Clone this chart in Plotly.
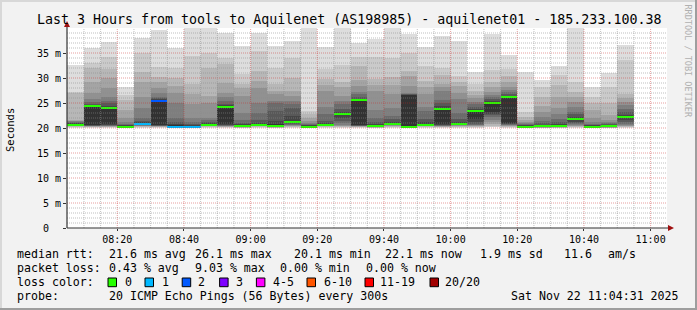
import plotly.graph_objects as go
import pandas as pd

# ---------------- data ----------------
bin_start = pd.date_range("2025-11-22 08:05:00", periods=34, freq="5min")

median_ms = [20.7, 24.4, 24.0, 20.3, 20.9, 25.5, 20.3, 20.2, 20.7, 24.3,
             20.5, 20.7, 20.5, 21.3, 20.3, 20.7, 22.8, 25.6, 20.5, 20.9,
             20.3, 20.7, 23.9, 20.9, 23.5, 25.1, 26.2, 20.3, 20.4, 20.5,
             21.9, 20.3, 20.4, 22.3]

lost_pings = [0, 0, 0, 0, 1, 2, 1, 1, 0, 0,
              0, 0, 0, 0, 0, 0, 0, 0, 0, 0,
              0, 0, 0, 0, 0, 0, 0, 0, 0, 0,
              0, 0, 0, 0]

# sorted ping rtts (ms): lower half p1..p10
pings_low = [
    [20.1, 20.2, 20.3, 20.4, 20.4, 20.5, 20.5, 20.6, 20.6, 20.7],
    [20.1, 20.2, 20.3, 20.3, 20.4, 20.4, 20.5, 20.5, 20.6, 20.7],
    [20.1, 20.2, 20.3, 20.3, 20.4, 20.5, 20.5, 20.6, 20.7, 20.8],
    [20.0, 20.0, 20.1, 20.1, 20.1, 20.2, 20.2, 20.2, 20.3, 20.3],
    [20.1, 20.2, 20.3, 20.4, 20.5, 20.5, 20.6, 20.7, 20.8, 20.9],
    [20.1, 20.2, 20.3, 20.3, 20.4, 20.4, 20.5, 20.5, 20.6, 20.7],
    [20.0, 20.0, 20.1, 20.1, 20.1, 20.2, 20.2, 20.2, 20.3, 20.3],
    [20.0, 20.0, 20.0, 20.1, 20.1, 20.1, 20.1, 20.2, 20.2, 20.2],
    [20.1, 20.2, 20.3, 20.4, 20.5, 20.5, 20.6, 20.6, 20.7, 20.7],
    [20.1, 20.2, 20.3, 20.3, 20.4, 20.5, 20.5, 20.6, 20.7, 20.8],
    [20.0, 20.1, 20.1, 20.2, 20.2, 20.3, 20.3, 20.4, 20.4, 20.5],
    [20.1, 20.2, 20.3, 20.4, 20.5, 20.5, 20.6, 20.6, 20.7, 20.7],
    [20.0, 20.1, 20.1, 20.2, 20.2, 20.3, 20.3, 20.4, 20.4, 20.5],
    [20.1, 20.2, 20.3, 20.4, 20.5, 20.6, 20.7, 20.9, 21.0, 21.2],
    [20.0, 20.0, 20.1, 20.1, 20.1, 20.2, 20.2, 20.2, 20.3, 20.3],
    [20.1, 20.2, 20.3, 20.4, 20.5, 20.5, 20.6, 20.6, 20.7, 20.7],
    [20.1, 20.2, 20.3, 20.4, 20.5, 20.7, 21.0, 21.5, 22.0, 22.6],
    [20.1, 20.2, 20.3, 20.3, 20.4, 20.4, 20.5, 20.5, 20.6, 20.7],
    [20.0, 20.1, 20.1, 20.2, 20.2, 20.3, 20.3, 20.4, 20.4, 20.5],
    [20.1, 20.2, 20.3, 20.4, 20.5, 20.6, 20.6, 20.7, 20.8, 20.9],
    [20.0, 20.1, 20.1, 20.2, 20.2, 20.2, 20.3, 20.3, 20.3, 20.4],
    [20.1, 20.2, 20.3, 20.4, 20.5, 20.5, 20.6, 20.6, 20.7, 20.7],
    [20.1, 20.2, 20.3, 20.3, 20.4, 20.5, 20.5, 20.6, 20.7, 20.8],
    [20.1, 20.2, 20.3, 20.4, 20.5, 20.6, 20.6, 20.7, 20.8, 20.9],
    [20.1, 20.2, 20.3, 20.4, 20.5, 20.6, 20.7, 20.9, 21.2, 21.8],
    [20.2, 20.3, 20.5, 20.8, 21.2, 21.7, 22.2, 22.6, 22.9, 23.2],
    [20.1, 20.2, 20.3, 20.4, 20.5, 20.6, 20.7, 20.8, 20.9, 21.0],
    [20.0, 20.0, 20.1, 20.1, 20.1, 20.2, 20.2, 20.2, 20.3, 20.3],
    [20.0, 20.0, 20.1, 20.1, 20.2, 20.2, 20.3, 20.3, 20.3, 20.4],
    [20.0, 20.1, 20.1, 20.2, 20.2, 20.3, 20.3, 20.4, 20.4, 20.5],
    [20.1, 20.2, 20.3, 20.4, 20.5, 20.6, 20.8, 21.0, 21.3, 21.6],
    [20.0, 20.0, 20.1, 20.1, 20.1, 20.2, 20.2, 20.2, 20.3, 20.3],
    [20.0, 20.0, 20.1, 20.1, 20.2, 20.2, 20.3, 20.3, 20.3, 20.4],
    [20.1, 20.2, 20.3, 20.4, 20.5, 20.7, 20.9, 21.2, 21.6, 22.0],
]

# sorted ping rtts (ms): upper half p11..p20
pings_high = [
    [20.8, 20.9, 21.0, 21.2, 21.4, 21.5, 21.7, 27.0, 27.2, 32.7],
    [24.5, 24.7, 24.9, 25.3, 25.9, 27.0, 29.3, 32.0, 33.0, 36.1],
    [24.2, 24.5, 25.0, 25.5, 26.3, 28.0, 30.0, 31.8, 34.3, 37.3],
    [20.4, 20.5, 20.6, 20.8, 21.2, 22.0, 23.6, 25.6, 26.6, 28.3],
    [21.0, 21.2, 21.5, 22.0, 24.0, 26.3, 29.3, 31.3, 35.0, 38.0],
    [25.6, 25.8, 26.0, 26.3, 27.0, 28.0, 29.3, 30.3, 32.3, 39.6],
    [20.5, 20.8, 21.3, 22.1, 25.1, 27.1, 28.5, 30.1, 32.1, 36.0],
    [20.3, 20.5, 20.8, 21.2, 22.1, 24.8, 26.8, 28.8, 34.5, 40.0],
    [20.8, 21.0, 21.3, 21.7, 22.1, 25.1, 26.5, 32.1, 35.1, 40.0],
    [24.4, 24.6, 24.8, 25.5, 26.3, 27.1, 29.1, 32.9, 34.1, 39.1],
    [20.6, 20.8, 21.1, 21.6, 23.1, 26.5, 28.1, 28.8, 30.9, 36.5],
    [20.8, 21.1, 21.6, 23.1, 25.1, 28.1, 29.5, 31.5, 35.5, 39.1],
    [20.7, 21.5, 23.5, 25.0, 25.5, 26.8, 27.5, 28.8, 32.0, 36.5],
    [21.4, 22.5, 24.0, 24.8, 25.5, 26.5, 27.5, 30.0, 34.1, 37.5],
    [20.4, 20.5, 20.6, 20.8, 21.0, 21.5, 22.0, 22.8, 23.5, 40.0],
    [20.8, 21.0, 21.5, 22.8, 24.3, 27.5, 28.6, 29.8, 31.8, 36.2],
    [22.9, 23.2, 23.8, 24.8, 25.5, 26.4, 28.2, 29.3, 32.7, 40.0],
    [25.7, 25.9, 26.2, 26.8, 27.3, 28.5, 29.7, 32.5, 34.3, 37.0],
    [20.6, 20.9, 21.3, 22.0, 23.6, 27.4, 28.6, 29.8, 34.2, 37.8],
    [21.0, 21.3, 21.8, 22.5, 24.0, 26.8, 28.7, 30.2, 34.0, 40.0],
    [26.6, 26.7, 26.8, 26.9, 27.0, 28.5, 30.4, 31.5, 35.0, 38.8],
    [20.8, 21.2, 21.8, 23.5, 24.3, 26.8, 28.3, 29.5, 32.5, 36.3],
    [24.0, 24.4, 25.0, 25.7, 27.5, 28.3, 28.8, 30.6, 32.1, 38.5],
    [21.0, 21.3, 21.8, 23.1, 25.8, 27.0, 28.5, 29.3, 30.5, 37.5],
    [23.6, 23.8, 24.2, 24.8, 25.3, 26.0, 26.6, 27.5, 28.9, 31.3],
    [25.2, 25.5, 25.8, 26.2, 26.7, 27.3, 28.3, 29.3, 31.6, 38.8],
    [26.3, 26.5, 26.8, 27.2, 27.6, 28.3, 29.3, 30.5, 31.9, 34.6],
    [20.4, 20.5, 20.6, 20.8, 21.0, 21.3, 21.7, 22.3, 23.3, 31.3],
    [20.5, 20.7, 21.0, 21.5, 22.2, 23.3, 24.5, 26.3, 28.3, 29.6],
    [20.6, 20.8, 21.2, 21.8, 22.8, 24.0, 26.3, 28.6, 30.6, 32.4],
    [22.0, 22.3, 22.8, 23.3, 24.3, 25.3, 26.3, 27.3, 29.3, 40.0],
    [20.4, 20.5, 20.6, 20.8, 21.2, 22.0, 23.6, 25.0, 26.3, 28.3],
    [20.5, 20.6, 20.8, 21.0, 21.3, 21.7, 22.6, 25.0, 28.3, 31.1],
    [22.4, 22.7, 23.2, 23.9, 24.6, 25.3, 26.1, 26.9, 33.6, 36.6],
]

y_tickvals = [0, 5, 10, 15, 20, 25, 30, 35]
y_ticktext = ["0\u00a0\u00a0", "5 m", "10 m", "15 m", "20 m", "25 m", "30 m", "35 m"]

legend_labels = ["0", "1", "2", "3", "4-5", "6-10", "11-19", "20/20"]
legend_colors = ["#26ff00", "#00b8ff", "#0059ff", "#7e00ff",
                 "#ff00ff", "#ff5500", "#ff0000", "#a10000"]

# ---------------- figure ----------------
FONT = "DejaVu Sans Mono"
W_FIG, H_FIG = 697, 310
L, R, T, B = 67, 667, 28, 228
PW, PH = R - L, B - T


def fx(px):
    return (px - L) / PW


def fy(py):
    return (B - py) / PH


smoke_grays = ["#dddddd", "#cacaca", "#b7b7b7", "#a4a4a4", "#919191",
               "#7e7e7e", "#6b6b6b", "#585858", "#454545", "#323232"]

centers = bin_start + pd.Timedelta(seconds=150)
step_ms = 300000
pings = [lo + hi for lo, hi in zip(pings_low, pings_high)]

fig = go.Figure()
for k in range(10):
    base = [p[k] for p in pings]
    height = [p[19 - k] - p[k] for p in pings]
    fig.add_trace(go.Bar(x=centers, y=height, base=base, width=step_ms,
                         marker=dict(color=smoke_grays[k], line=dict(width=0)),
                         hoverinfo="skip"))


def loss_color(n):
    if n <= 3:
        return legend_colors[n]
    if n <= 5:
        return legend_colors[4]
    if n <= 10:
        return legend_colors[5]
    if n <= 19:
        return legend_colors[6]
    return legend_colors[7]


med_half = 0.2
fig.add_trace(go.Bar(x=centers, y=[2 * med_half] * len(median_ms),
                     base=[m - med_half for m in median_ms], width=step_ms,
                     marker=dict(color=[loss_color(n) for n in lost_pings], line=dict(width=0)),
                     hoverinfo="skip"))

shapes = []
minor_c = "rgba(140,140,140,0.55)"
major_c = "rgba(200,40,40,0.45)"
for v in range(1, 40):
    shapes.append(dict(type="line", xref="paper", yref="y", x0=0, x1=1, y0=v, y1=v,
                       layer="above",
                       line=dict(color=major_c if v % 5 == 0 else minor_c, width=1, dash="1px,1px")))
for t in pd.date_range("2025-11-22 08:10", "2025-11-22 11:00", freq="5min"):
    shapes.append(dict(type="line", xref="x", yref="paper", x0=t, x1=t, y0=0, y1=1,
                       layer="above",
                       line=dict(color=major_c if t.minute % 20 == 0 else minor_c, width=1, dash="1px,1px")))

axis_c = "#333333"
arrow_c = "#a01010"
# axes lines
shapes.append(dict(type="line", xref="paper", yref="paper", x0=fx(67), x1=fx(670), y0=fy(228), y1=fy(228),
                   line=dict(color=axis_c, width=1.2), layer="above"))
shapes.append(dict(type="line", xref="paper", yref="paper", x0=fx(67), x1=fx(67), y0=fy(228), y1=fy(24),
                   line=dict(color=axis_c, width=1.2), layer="above"))
# arrows
shapes.append(dict(type="path", xref="paper", yref="paper", layer="above",
                   path=f"M {fx(64)},{fy(27)} L {fx(70)},{fy(27)} L {fx(67)},{fy(21)} Z",
                   fillcolor=arrow_c, line=dict(width=0)))
shapes.append(dict(type="path", xref="paper", yref="paper", layer="above",
                   path=f"M {fx(668)},{fy(225)} L {fx(668)},{fy(231)} L {fx(674)},{fy(228)} Z",
                   fillcolor=arrow_c, line=dict(width=0)))
# frame
shapes.append(dict(type="line", xref="paper", yref="paper", x0=fx(0), x1=fx(697), y0=fy(1), y1=fy(1),
                   line=dict(color="#d8d8d8", width=2)))
shapes.append(dict(type="line", xref="paper", yref="paper", x0=fx(1), x1=fx(1), y0=fy(0), y1=fy(310),
                   line=dict(color="#d8d8d8", width=2)))
shapes.append(dict(type="line", xref="paper", yref="paper", x0=fx(696), x1=fx(696), y0=fy(0), y1=fy(310),
                   line=dict(color="#9e9e9e", width=2)))
shapes.append(dict(type="line", xref="paper", yref="paper", x0=fx(0), x1=fx(697), y0=fy(309), y1=fy(309),
                   line=dict(color="#9e9e9e", width=2)))

annotations = []


def txt(s, x, y, size=11.6, anchor="left", color="#000000", angle=0):
    annotations.append(dict(text=s, xref="paper", yref="paper", x=fx(x), y=fy(y),
                            xanchor=anchor, yanchor="middle", showarrow=False,
                            textangle=angle, borderpad=0,
                            font=dict(family=FONT, size=size, color=color)))


txt("Last 3 Hours from tools to Aquilenet (AS198985) - aquilenet01 - 185.233.100.38",
    348.5, 19, size=13.3, anchor="center")
txt("RRDTOOL / TOBI OETIKER", 687.5, 61, size=8.5, anchor="center", color="#b0b0b0", angle=90)
txt("Seconds", 10, 130, size=10.5, anchor="center", angle=-90)

row1 = [("median rtt:", 16.4), ("21.6 ms avg", 107.6), ("26.1 ms max", 194.2),
        ("20.1 ms min", 293.3), ("22.1 ms now", 384.4), ("1.9 ms sd", 479),
        ("11.6", 563), ("am/s", 606.7)]
row2 = [("packet loss:", 16.4), ("0.43 % avg", 107.6), ("9.03 % max", 194.2),
        ("0.00 % min", 279), ("0.00 % now", 365.3)]
for s, x in row1:
    txt(s, x, 254)
for s, x in row2:
    txt(s, x, 268)
txt("loss color:", 16.4, 282)
box_x = [108, 145, 182.2, 219.6, 256.4, 307, 365, 430]
lab_x = [123.6, 161, 197, 234.7, 271.6, 322.7, 379, 444.4]
for lab, col, bx, lx in zip(legend_labels, legend_colors, box_x, lab_x):
    shapes.append(dict(type="rect", xref="paper", yref="paper",
                       x0=fx(bx), x1=fx(bx + 8.5), y0=fy(278), y1=fy(286.7),
                       fillcolor=col, line=dict(color="#000000", width=1)))
    txt(lab, lx, 282)
txt("probe:", 16.4, 296)
txt("20 ICMP Echo Pings (56 Bytes) every 300s", 107.6, 296)
txt("Sat Nov 22 11:04:31 2025", 680, 296, anchor="right")

fig.update_layout(
    width=W_FIG, height=H_FIG,
    margin=dict(l=L, r=W_FIG - R, t=T, b=H_FIG - B, pad=0),
    paper_bgcolor="#f2f2f2", plot_bgcolor="#ffffff",
    barmode="overlay", bargap=0, showlegend=False,
    font=dict(family=FONT, size=10, color="#000000"),
    shapes=shapes, annotations=annotations,
    xaxis=dict(type="date", range=["2025-11-22 08:04:55", "2025-11-22 11:04:55"],
               showgrid=False, zeroline=False, showline=False,
               tick0="2025-11-22 08:00:00", dtick=1200000, tickformat="%H:%M",
               ticks="outside", ticklen=2, tickcolor=axis_c,
               tickfont=dict(family=FONT, size=10, color="#000000")),
    yaxis=dict(range=[0, 40], showgrid=False, zeroline=False, showline=False,
               tickmode="array", tickvals=y_tickvals, ticktext=y_ticktext,
               ticks="outside", ticklen=3, tickcolor=axis_c,
               tickfont=dict(family=FONT, size=10, color="#000000")),
)

fig.write_html("out.html")
